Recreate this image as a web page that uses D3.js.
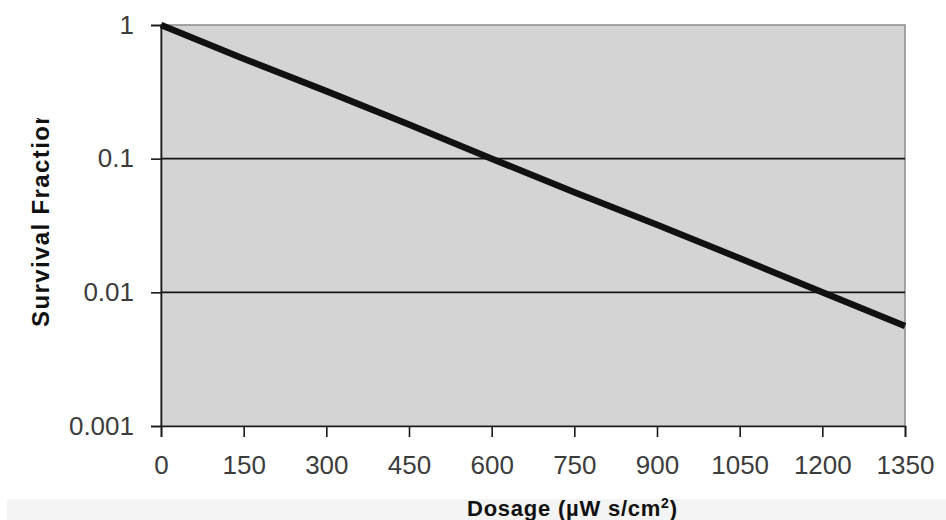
<!DOCTYPE html>
<html>
<head>
<meta charset="utf-8">
<script src="https://cdn.jsdelivr.net/npm/d3@7"></script>
<style>
  html, body { margin: 0; padding: 0; background: #fff; }
  svg { display: block; }
  text { font-family: "Liberation Sans", Arial, sans-serif; }
</style>
</head>
<body>
<svg id="chart" width="946" height="520"></svg>
<script>
// UV dose (µW s/cm²) and the surviving fraction at each dose
const doses = [0, 150, 300, 450, 600, 750, 900, 1050, 1200, 1350];
const survival = [1, 0.56, 0.32, 0.18, 0.1, 0.056, 0.032, 0.018, 0.01, 0.0056];
const xTicks = [0, 150, 300, 450, 600, 750, 900, 1050, 1200, 1350];
const yTicks = [1, 0.1, 0.01, 0.001];
const yTickLabels = ["1", "0.1", "0.01", "0.001"];

const svg = d3.select("#chart");
const plot = { left: 161, right: 905, top: 25, bottom: 426 };

const x = d3.scaleLinear().domain([0, 1350]).range([plot.left, plot.right]);
const y = d3.scaleLog().domain([0.001, 1]).range([plot.bottom, plot.top]);

// light strip along the bottom edge
svg.append("rect")
  .attr("x", 7).attr("y", 499).attr("width", 939).attr("height", 21)
  .attr("fill", "#f4f4f4");

// plot area
svg.append("rect")
  .attr("x", plot.left).attr("y", plot.top)
  .attr("width", plot.right - plot.left).attr("height", plot.bottom - plot.top)
  .attr("fill", "#d4d4d4")
  .attr("stroke", "#8a8a8a").attr("stroke-width", 1.5);

// horizontal gridlines at the inner decades
svg.append("g")
  .selectAll("line")
  .data(yTicks.filter(v => v > 0.001 && v < 1))
  .join("line")
  .attr("x1", plot.left).attr("x2", plot.right)
  .attr("y1", d => y(d)).attr("y2", d => y(d))
  .attr("stroke", "#141414").attr("stroke-width", 1.6);

// survival curve
const line = d3.line()
  .x((d, i) => x(doses[i]))
  .y(d => y(d));

svg.append("path")
  .datum(survival)
  .attr("d", line)
  .attr("fill", "none")
  .attr("stroke", "#111")
  .attr("stroke-width", 6.5)
  .attr("stroke-linecap", "butt")
  .attr("stroke-linejoin", "round");

// y axis
const yAxis = d3.axisLeft(y)
  .tickValues(yTicks)
  .tickFormat((d, i) => yTickLabels[i])
  .tickSize(10)
  .tickPadding(17);

const gy = svg.append("g")
  .attr("transform", `translate(${plot.left},0)`)
  .call(yAxis);
gy.select(".domain").attr("stroke", "#1a1a1a").attr("stroke-width", 1.6);
gy.selectAll(".tick line").attr("stroke", "#1a1a1a").attr("stroke-width", 1.6);
gy.selectAll(".tick text")
  .attr("font-size", 26)
  .attr("fill", "#3c3c3c")
  .attr("font-family", "'Liberation Sans', Arial, sans-serif");

// x axis
const xAxis = d3.axisBottom(x)
  .tickValues(xTicks)
  .tickFormat(d3.format("d"))
  .tickSize(11)
  .tickPadding(19);

const gx = svg.append("g")
  .attr("transform", `translate(0,${plot.bottom})`)
  .call(xAxis);
gx.select(".domain").attr("stroke", "#1a1a1a").attr("stroke-width", 1.6);
gx.selectAll(".tick line").attr("stroke", "#1a1a1a").attr("stroke-width", 1.6);
gx.selectAll(".tick text")
  .attr("font-size", 26)
  .attr("fill", "#3c3c3c")
  .attr("font-family", "'Liberation Sans', Arial, sans-serif");

// axis titles
svg.append("text")
  .attr("x", 467).attr("y", 516)
  .attr("font-size", 22)
  .attr("font-weight", "bold")
  .attr("fill", "#111")
  .attr("textLength", 210)
  .attr("lengthAdjust", "spacing")
  .html('Dosage (µW s/cm<tspan font-size="14" dy="-8">2</tspan><tspan dy="8">)</tspan>');

svg.append("clipPath").attr("id", "ytitle-clip")
  .append("rect").attr("x", 0).attr("y", 118).attr("width", 80).attr("height", 260);

svg.append("g")
  .attr("clip-path", "url(#ytitle-clip)")
  .append("text")
  .attr("transform", "translate(49,327) rotate(-90)")
  .attr("font-size", 24)
  .attr("font-weight", "bold")
  .attr("fill", "#111")
  .attr("textLength", 217)
  .attr("lengthAdjust", "spacing")
  .text("Survival Fraction");
</script>
</body>
</html>
